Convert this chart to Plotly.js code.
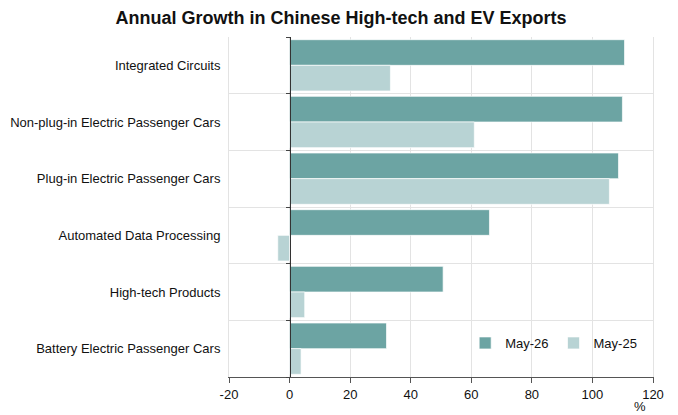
<!DOCTYPE html>
<html>
<head>
<meta charset="utf-8">
<script src="https://cdn.plot.ly/plotly-3.0.1.min.js"></script>
<style>html,body{margin:0;padding:0;background:#fff;}#chart{width:678px;height:415px;}</style>
</head>
<body>
<div id="chart"></div>
<script>
const categories = [
  "Integrated Circuits",
  "Non-plug-in Electric Passenger Cars",
  "Plug-in Electric Passenger Cars",
  "Automated Data Processing",
  "High-tech Products",
  "Battery Electric Passenger Cars"
];
const may26 = [110.6, 109.9, 108.6, 66.0, 50.7, 32.0];
const may25 = [33.3, 61.0, 105.6, -3.9, 5.0, 3.8];
const seriesNames = ["May-26", "May-25"];
const xTicks = [-20, 0, 20, 40, 60, 80, 100, 120];
const xTickText = ["-20", "0", "20", "40", "60", "80", "100", "120"];

const font = "Liberation Sans, Arial, sans-serif";
const traces = [
  {type: "bar", orientation: "h", name: seriesNames[0], y: categories, x: may26,
   marker: {color: "#6ca4a3", line: {color: "rgba(255,255,255,0.85)", width: 0.8}}},
  {type: "bar", orientation: "h", name: seriesNames[1], y: categories, x: may25,
   marker: {color: "#b8d3d4", line: {color: "rgba(255,255,255,0.85)", width: 0.8}}}
];
const n = categories.length;
const boundaries = [];
for (let i = 0; i <= n; i++) boundaries.push(i - 0.5);

const layout = {
  width: 678, height: 415,
  margin: {l: 229, r: 25, t: 37, b: 38},
  paper_bgcolor: "#fff", plot_bgcolor: "#fff",
  font: {family: font, size: 13, color: "#111"},
  title: {text: "<b>Annual Growth in Chinese High-tech and EV Exports</b>",
          font: {family: font, size: 18, color: "#111"}, x: 0.503, xanchor: "center", y: 0.957, yanchor: "middle"},
  barmode: "group", bargap: 0.095, bargroupgap: 0,
  showlegend: true,
  legend: {orientation: "h", x: 0.557, xanchor: "left", y: 0.1, yanchor: "middle",
           font: {family: font, size: 13, color: "#111"}, bgcolor: "rgba(0,0,0,0)",
           itemwidth: 30, tracegroupgap: 0},
  xaxis: {range: [-20, 120], tickvals: xTicks, ticktext: xTickText, ticks: "outside", ticklen: 5, tickcolor: "#555",
          showline: true, linecolor: "#555", linewidth: 1, showgrid: true, gridcolor: "#e3e3e3",
          zeroline: false, tickfont: {family: font, size: 13, color: "#111"}, fixedrange: true},
  yaxis: {type: "category", categoryorder: "array", categoryarray: categories, autorange: "reversed",
          tickson: "boundaries", ticks: "", showgrid: true, gridcolor: "#e3e3e3",
          showline: true, linecolor: "#e3e3e3", mirror: true, zeroline: false,
          ticklabelstandoff: 5, tickfont: {family: font, size: 13, color: "#111"}},
  yaxis2: {type: "linear", overlaying: "y", anchor: "free", position: 20/140,
           range: [n - 0.5, -0.5], tickvals: boundaries, showticklabels: false,
           ticks: "outside", ticklen: 4, tickcolor: "#444", showgrid: false, zeroline: false,
           showline: true, linecolor: "#333", linewidth: 1},
  annotations: [{text: "%", xref: "paper", yref: "paper", x: 0.969, y: -0.088,
                 xanchor: "center", yanchor: "middle", showarrow: false,
                 font: {family: font, size: 13, color: "#111"}}]
};
traces.push({type: "scatter", x: [0], y: [0], yaxis: "y2", mode: "markers",
             marker: {opacity: 0}, showlegend: false, hoverinfo: "skip"});
Plotly.newPlot("chart", traces, layout, {displayModeBar: false, staticPlot: true});
</script>
</body>
</html>
